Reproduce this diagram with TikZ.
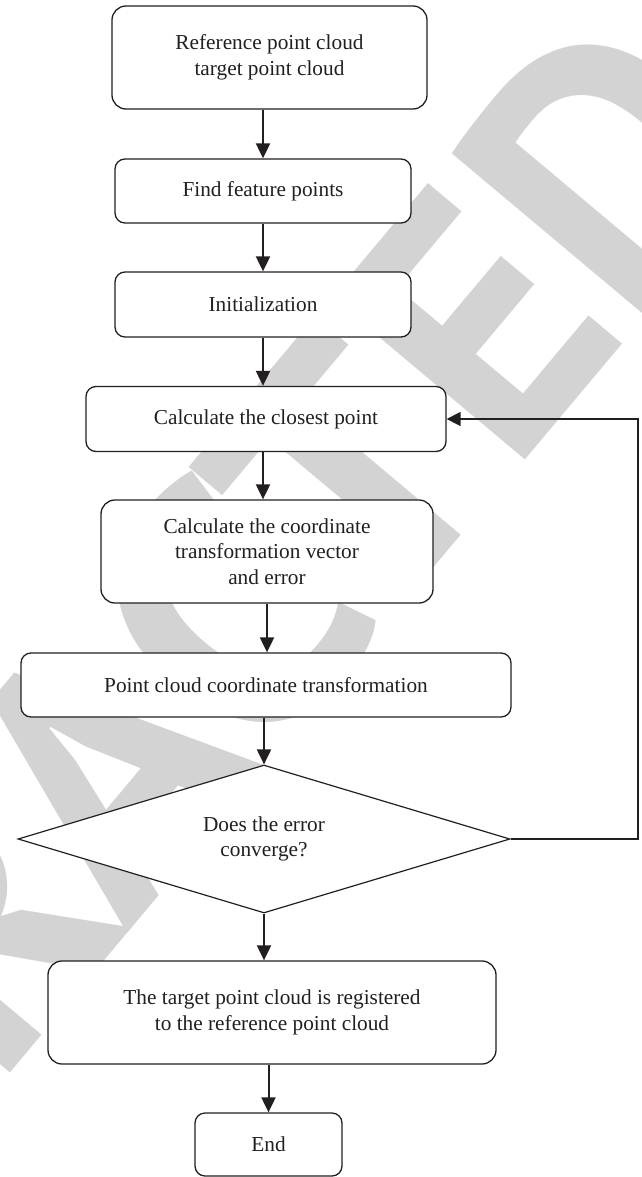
\documentclass[tikz,border=0pt]{standalone}
\usepackage{fontspec}
\setmainfont{Liberation Serif}
\newfontfamily\wmfont{PT Sans}
\usetikzlibrary{shapes.geometric,arrows.meta}
\definecolor{ink}{RGB}{35,31,32}
\definecolor{wm}{RGB}{211,211,211}
\begin{document}
\begin{tikzpicture}[x=1pt,y=-1pt,
  box/.style={draw=ink, line width=1.3pt, rounded corners=10pt, fill=white,
    align=center, inner sep=0pt, text=ink,
    font=\fontsize{21.3}{25.5}\selectfont},
  bigbox/.style={box, rounded corners=14pt},
  dia/.style={draw=ink, line width=1.2pt, diamond, aspect=3.3, fill=white,
    inner sep=0pt, align=center, text=ink,
    font=\fontsize{21.3}{25.5}\selectfont},
  arr/.style={draw=ink, line width=2pt, -{Triangle[length=15pt,width=14pt]}},
  fb/.style={draw=ink, line width=1.6pt, -{Triangle[length=14pt,width=14pt]}}]
\useasboundingbox (0,0) rectangle (641,1177);
\fill[white] (0,0) rectangle (641,1177);
\begin{scope}
\clip (0,0) rectangle (641,1177);
\node[rotate=50, text=wm, inner sep=0pt,
  font=\wmfont\bfseries\fontsize{360}{360}\selectfont] (wm) at (97,774) {RETRACTED};
\end{scope}

\node[bigbox, minimum width=315pt, minimum height=103pt] (b1) at (269.5,57.5)
  {Reference point cloud\\target point cloud};
\node[box, minimum width=296pt, minimum height=64pt] (b2) at (263,191)
  {Find feature points};
\node[box, minimum width=296pt, minimum height=65pt] (b3) at (263,304.5)
  {Initialization};
\node[box, minimum width=360pt, minimum height=65pt] (b4) at (266,419)
  {Calculate the closest point};
\node[bigbox, minimum width=332pt, minimum height=103pt] (b5) at (267,551.5)
  {Calculate the coordinate\\transformation vector\\and error};
\node[box, minimum width=490pt, minimum height=64pt] (b6) at (266,685)
  {Point cloud coordinate transformation};
\node[dia, minimum width=492pt, minimum height=148pt] (d) at (264,839)
  {Does the error\\converge?};
\node[bigbox, minimum width=448pt, minimum height=103pt] (b7) at (272,1012.5)
  {The target point cloud is registered\\to the reference point cloud};
\node[box, minimum width=147pt, minimum height=63pt] (e) at (268.5,1144.5)
  {End};

\coordinate (fbc) at (638,838);

\draw[arr] (b1.south -| b2.north) -- (b2.north);
\draw[arr] (b2.south) -- (b3.north);
\draw[arr] (b3.south) -- (b3.south |- b4.north);
\draw[arr] (b3.south |- b4.south) -- (b3.south |- b5.north);
\draw[arr] (b5.south) -- (b5.south |- b6.north);
\draw[arr] (b6.south -| d.north) -- (d.north);
\draw[arr] (d.south) -- (d.south |- b7.north);
\draw[arr] (b7.south -| e.north) -- (e.north);
\draw[fb] (d.east) -- (d.east -| fbc) |- (b4.east);
\end{tikzpicture}
\end{document}
